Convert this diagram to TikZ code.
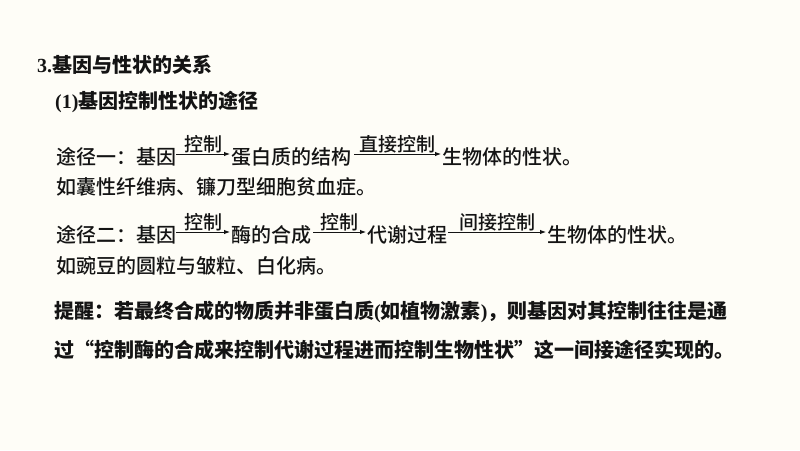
\documentclass[tikz,border=0pt]{standalone}
\usepackage{fontspec}
\setmainfont{Noto Sans CJK SC}
\newfontfamily\cjkm{Noto Sans CJK SC Medium}
\newfontfamily\tms{Liberation Serif}
\newfontfamily\cjkq[RawFeature=+fwid]{Noto Sans CJK SC}
\usetikzlibrary{arrows.meta}
\definecolor{bg}{RGB}{254,253,247}
\definecolor{ink}{RGB}{20,20,20}
\tikzset{
  txt/.style={anchor=west, inner sep=0pt, text=ink, font=\cjkm\fontsize{20pt}{24pt}\selectfont},
  bold/.style={anchor=west, inner sep=0pt, text=ink, font=\fontsize{20pt}{24pt}\selectfont\bfseries},
  lbl/.style={above, inner sep=0.6pt, text=ink, font=\cjkm\fontsize{19pt}{22pt}\selectfont},
  arr/.style={draw=ink, line width=0.9pt, -{Latex[length=6pt,width=4.5pt]}}
}
\begin{document}
\begin{tikzpicture}[x=1pt,y=-1pt]
\fill[bg] (0,0) rectangle (800,450);
\useasboundingbox (0,0) rectangle (800,450);
% headings
\node[bold] (h1) at (37,65) {{\tms\bfseries 3.}基因与性状的关系};
\node[bold] (h2) at (55,102) {{\tms\bfseries (1)}基因控制性状的途径};
% route one
\node[txt] (a1) at (56,157) {途径一：基因};
\node[txt] (b1) at (231,157) {蛋白质的结构};
\node[txt] (c1) at (442,157) {生物体的性状。};
\draw[arr] ([yshift=3pt]a1.east) -- node[lbl] {控制} ([yshift=3pt,xshift=-1pt]b1.west);
\draw[arr] ([yshift=3pt,xshift=3pt]b1.east) -- node[lbl] {直接控制} ([yshift=3pt,xshift=-1pt]c1.west);
\node[txt] (e1) at (56,187) {如囊性纤维病、镰刀型细胞贫血症。};
% route two
\node[txt] (a2) at (56,235) {途径二：基因};
\node[txt] (b2) at (231,235) {酶的合成};
\node[txt] (c2) at (367,235) {代谢过程};
\node[txt] (d2) at (547,235) {生物体的性状。};
\draw[arr] ([yshift=3pt]a2.east) -- node[lbl] {控制} ([yshift=3pt,xshift=-1pt]b2.west);
\draw[arr] ([yshift=3pt,xshift=2pt]b2.east) -- node[lbl] {控制} ([yshift=3pt,xshift=-1pt]c2.west);
\draw[arr] ([yshift=3pt,xshift=1pt]c2.east) -- node[lbl] {间接控制} ([yshift=3pt,xshift=-1pt]d2.west);
\node[txt] (e2) at (56,266) {如豌豆的圆粒与皱粒、白化病。};
% reminder
\node[bold] (r1) at (54,312) {提醒：若最终合成的物质并非蛋白质{\tms\bfseries (}如植物激素{\tms\bfseries )}，则基因对其控制往往是通};
\node[bold] (r2) at (54,350) {过{\cjkq\bfseries “}控制酶的合成来控制代谢过程进而控制生物性状{\cjkq\bfseries ”}这一间接途径实现的。};
\end{tikzpicture}
\end{document}
